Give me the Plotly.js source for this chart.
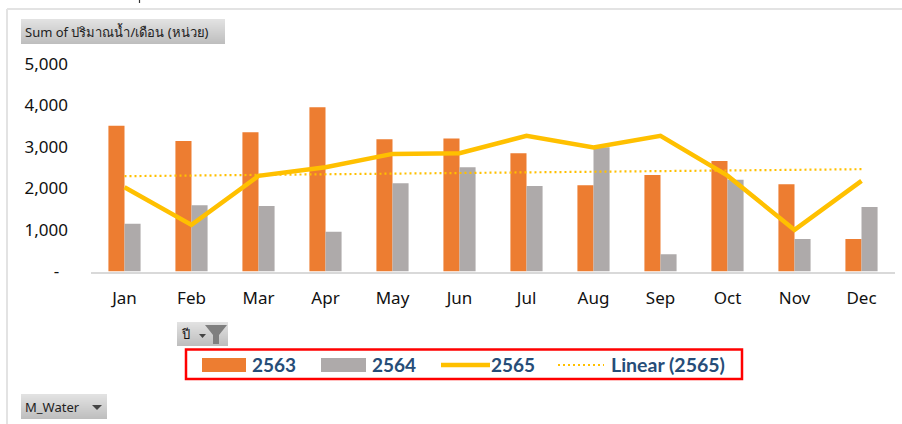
<!DOCTYPE html>
<html><head><meta charset="utf-8">
<script src="https://cdn.plot.ly/plotly-3.0.1.min.js"></script>
<style>html,body{margin:0;padding:0;background:#fff}#c{width:902px;height:424px}</style></head>
<body><div id="c"></div>
<script>
const months=["Jan","Feb","Mar","Apr","May","Jun","Jul","Aug","Sep","Oct","Nov","Dec"];
const y2563=[3510,3145,3355,3960,3185,3205,2850,2080,2328,2665,2103,785];
const y2564=[1148,1598,1581,955,2128,2514,2063,2995,417,2208,786,1557];
const y2565=[2032,1123,2304,2514,2834,2850,3268,2987,3268,2310,1003,2184];
const linear2565=[2297,2312,2327,2343,2358,2373,2389,2404,2419,2435,2450,2465];
const yTicks=[0,1000,2000,3000,4000,5000];
const yLabels=["-\u00a0\u00a0","1,000","2,000","3,000","4,000","5,000"];
const legendNames=["2563","2564","2565","Linear (2565)"];
const buttonLabels=["Sum of ปริมาณน้ำ/เดือน (หน่วย)","ปี","M_Water"];

const W=902,H=424;
const px=x=>x/W, py=y=>1-y/H;
const orange="#ED7D31",grey="#AEAAAA",gold="#FFC000",navy="#264D78";
const shapes=[],annotations=[];
function rect(x0,y0,x1,y1,fill,line){shapes.push({type:"rect",xref:"paper",yref:"paper",layer:"above",x0:px(x0),x1:px(x1),y0:py(y0),y1:py(y1),fillcolor:fill,line:line||{width:0}});}
function seg(x0,y0,x1,y1,color,width,dash){shapes.push({type:"line",xref:"paper",yref:"paper",layer:"above",x0:px(x0),x1:px(x1),y0:py(y0),y1:py(y1),line:{color:color,width:width,dash:dash||"solid"}});}
function path(d,fill){shapes.push({type:"path",xref:"paper",yref:"paper",layer:"above",path:d.map(p=>(p[0]===null?"Z":(p[2]+px(p[0])+","+py(p[1])))).join(" "),fillcolor:fill,line:{width:0}});}
function label(t,x,y,size,color,font,weight,anchor){annotations.push({text:t,xref:"paper",yref:"paper",x:px(x),y:py(y),xanchor:anchor||"left",yanchor:"middle",showarrow:false,font:{size:size,color:color,family:font,weight:weight||400}});}
function button(x0,y0,x1,y1){const n=y1-y0;for(let i=0;i<n;i++){const v=Math.round(226-(226-190)*i/(n-1));rect(x0,i+y0,x1,i+y0+1,`rgb(${v},${v},${v})`);}}

// chart frame
seg(7,9,902,9,"#E3E3E3",2);
seg(7,9,7,424,"#E3E3E3",2);
seg(139.5,0,139.5,3,"#333",1.2);

// field buttons
button(21,19,225,44);
label(buttonLabels[0],23,31.5,13,"#222","Noto Sans, Tahoma, DejaVu Sans, sans-serif");
button(177,322,228,346);
label(buttonLabels[1],179,334,13,"#111","Noto Sans, DejaVu Sans, sans-serif");
path([[199,334,"M"],[206,334,"L"],[202.5,338,"L"],[null]],"#444");
path([[205,325,"M"],[227,325,"L"],[219,335,"L"],[219,344,"L"],[213,344,"L"],[213,335,"L"],[null]],"#7f7f7f");
button(21,394,107,419);
label(buttonLabels[2],23,406.5,13,"#222","Noto Sans, DejaVu Sans, sans-serif");
path([[92,405,"M"],[102,405,"L"],[97,410,"L"],[null]],"#444");

// legend
rect(186,349.5,742,379,"rgba(0,0,0,0)",{color:"#FF0000",width:2.5});
rect(202,358,246,372,orange);
label(legendNames[0],250,364,19,navy,"Lato, sans-serif",700);
rect(321,358,366,372,grey);
label(legendNames[1],370,364,19,navy,"Lato, sans-serif",700);
seg(441,365,490,365,gold,4.5);
label(legendNames[2],489,364,19,navy,"Lato, sans-serif",700);
seg(558,365,604,365,gold,1.8,"2px,3px");
label(legendNames[3],609,364,19.5,navy,"Lato, sans-serif",700);

const traces=[
 {type:"bar",name:legendNames[0],x:months,y:y2563,marker:{color:orange}},
 {type:"bar",name:legendNames[1],x:months,y:y2564,marker:{color:grey}},
 {type:"scatter",mode:"lines",name:legendNames[2],x:months,y:y2565,line:{color:gold,width:4.5,shape:"linear"}},
 {type:"scatter",mode:"lines",name:legendNames[3],x:months,y:linear2565,line:{color:gold,width:2.2,dash:"2px,3px"}}
];
const tickFont={family:"Noto Sans, Open Sans, sans-serif",size:17,color:"#111"};
const layout={
 width:W,height:H,margin:{l:0,r:0,t:0,b:0,pad:0},paper_bgcolor:"#fff",plot_bgcolor:"#fff",
 showlegend:false,barmode:"group",bargap:0.52,bargroupgap:0,
 xaxis:{domain:[91/W,895/W],type:"category",categoryarray:months,showgrid:false,zeroline:false,showline:true,linecolor:"#D9D9D9",linewidth:2,ticks:"",tickfont:tickFont,ticklabelstandoff:10,fixedrange:true},
 yaxis:{domain:[1-271.5/H,1-64/H],range:[0,5000],tickmode:"array",tickvals:yTicks,ticktext:yLabels,showgrid:false,zeroline:false,showline:false,ticks:"",tickfont:tickFont,ticklabelstandoff:22,fixedrange:true},
 shapes:shapes,annotations:annotations
};
Plotly.newPlot("c",traces,layout,{displayModeBar:false,staticPlot:true});
</script></body></html>
